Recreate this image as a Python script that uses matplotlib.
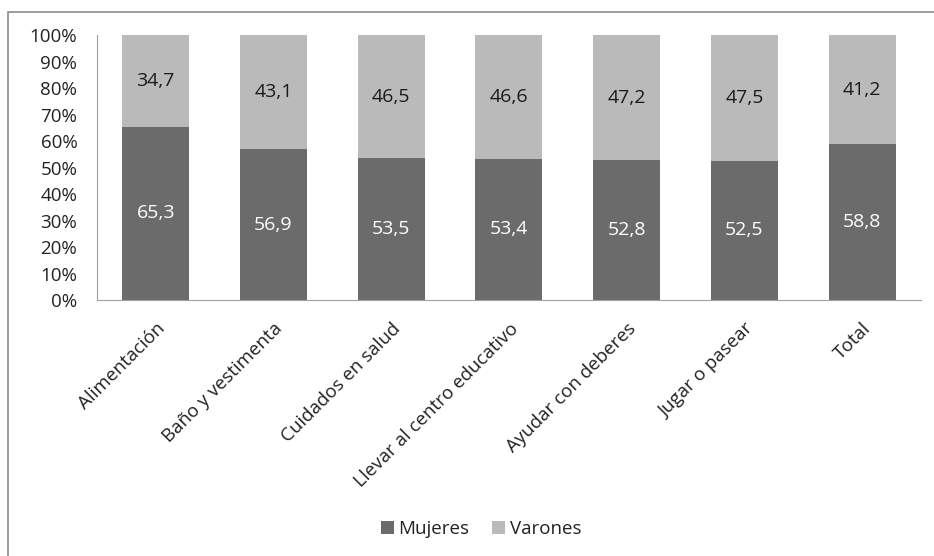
import matplotlib.pyplot as plt
from matplotlib.patches import Rectangle
import numpy as np

plt.rcParams['font.family'] = ['Open Sans', 'DejaVu Sans']

categorias = ['Alimentación', 'Baño y vestimenta', 'Cuidados en salud',
              'Llevar al centro educativo', 'Ayudar con deberes',
              'Jugar o pasear', 'Total']
mujeres = [65.3, 56.9, 53.5, 53.4, 52.8, 52.5, 58.8]
varones = [34.7, 43.1, 46.5, 46.6, 47.2, 47.5, 41.2]

col_muj = '#6b6b6b'
col_var = '#bababa'

fig = plt.figure(figsize=(9.34, 5.56), dpi=100)
ax = fig.add_axes([0.1036, 0.4604, 0.8824, 0.4766])

# marco exterior del gráfico
fig.patches.append(Rectangle((8 / 934, -0.1), 1.2, 1 - 12 / 556 + 0.1,
                             transform=fig.transFigure, fill=False,
                             edgecolor='#8c8c8c', linewidth=1.2))

x = np.arange(len(categorias))
w = 0.57
ax.bar(x, mujeres, w, color=col_muj, label='Mujeres')
ax.bar(x, varones, w, bottom=mujeres, color=col_var, label='Varones')

for i in range(len(x)):
    ax.text(x[i], mujeres[i] / 2, f'{mujeres[i]:.1f}'.replace('.', ','),
            ha='center', va='center', color='white', fontsize=14)
    ax.text(x[i], mujeres[i] + varones[i] / 2, f'{varones[i]:.1f}'.replace('.', ','),
            ha='center', va='center', color='#1a1a1a', fontsize=14)

ax.set_xlim(-0.5, len(x) - 0.5)
ax.set_ylim(0, 100)
ax.set_yticks(range(0, 101, 10))
ax.set_yticklabels([f'{v}%' for v in range(0, 101, 10)], fontsize=13.5,
                   color='#222222')
ax.set_xticks(x)
ax.set_xticklabels(categorias, rotation=45, ha='right', rotation_mode='anchor',
                   fontsize=13.5, color='#222222')
ax.tick_params(axis='x', length=0, pad=14)
ax.tick_params(axis='y', length=0, pad=14)
for s in ['top', 'right']:
    ax.spines[s].set_visible(False)
for s in ['left', 'bottom']:
    ax.spines[s].set_color('#a0a0a0')

fig.legend(loc='center', bbox_to_anchor=(481 / 934, 1 - 529 / 556), ncol=2,
           frameon=False, fontsize=13.5, handlelength=0.7, handleheight=0.7,
           handletextpad=0.25, columnspacing=1.2, labelcolor='#222222')

fig.savefig('out.png', dpi=100)
